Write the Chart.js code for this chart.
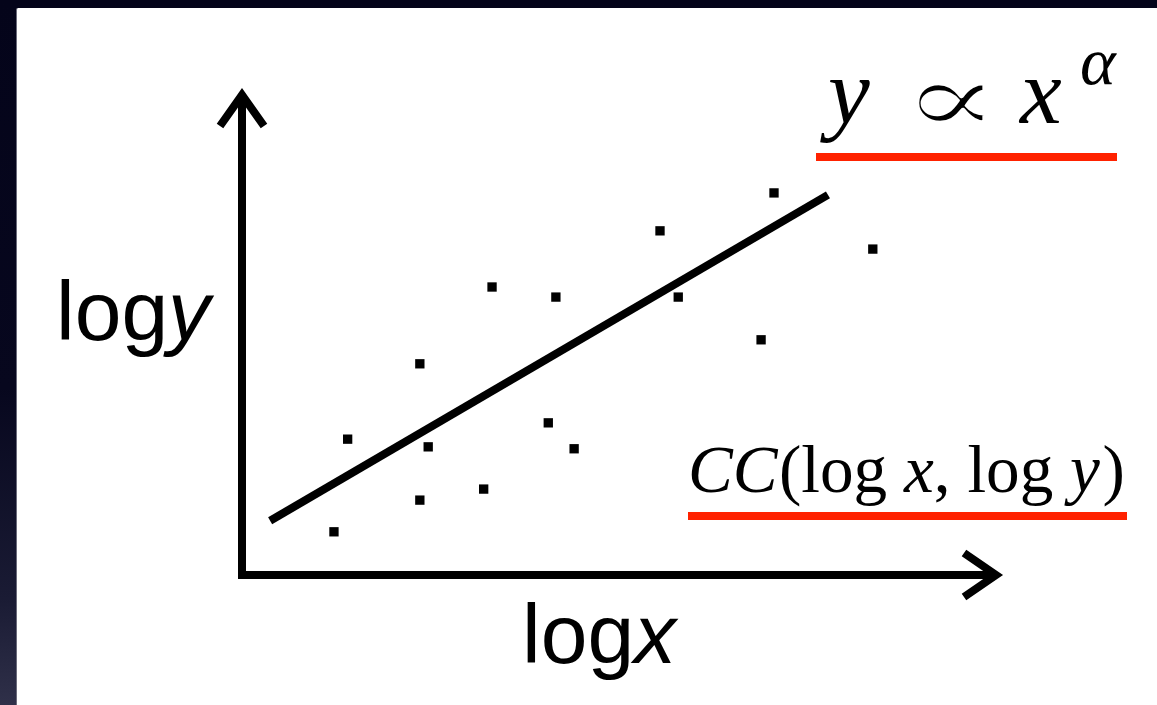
<!DOCTYPE html>
<html>
<head>
<meta charset="utf-8">
<script src="https://cdn.jsdelivr.net/npm/chart.js@4"></script>
<style>
  html, body { margin: 0; padding: 0; width: 1157px; height: 705px; overflow: hidden; }
  body {
    position: relative;
    background: linear-gradient(180deg, #04041a 0%, #07071e 55%, #1a1b34 85%, #2f3049 100%);
  }
  #panel {
    position: absolute; left: 16px; top: 8px; right: -20px; bottom: -20px;
    background: #fff; border-left: 1px solid #6a6a7a; border-top-left-radius: 2px;
  }
  #plot { position: absolute; left: 0; top: 0; }
</style>
</head>
<body>
<div id="panel"></div>
<canvas id="plot" width="1157" height="705"></canvas>
<script>
// observations (log x, log y)
const logX = [1.21, 1.39, 2.34, 2.34, 2.45, 3.18, 3.29, 4.03, 4.13, 4.37, 5.50, 5.74, 6.83, 7.00, 8.30];
const logY = [0.90, 2.83, 4.40, 1.56, 2.67, 1.79, 6.00, 3.17, 5.79, 2.63, 7.17, 5.79, 4.90, 7.96, 6.79];

// end points of the fitted line
const fitX = [0.37, 7.71];
const fitY = [1.13, 7.92];

// axis extent (arrow tips)
const axisMax = 10;

const serif = "'Liberation Serif', 'DejaVu Serif', serif";
const sans = "'Liberation Sans', Arial, sans-serif";

// draws a row of text pieces with different fonts, returns total width
const drawRuns = (ctx, runs, x, y, measureOnly) => {
    let w = 0;
    for (const r of runs) {
        ctx.font = r.font;
        if (!measureOnly) ctx.fillText(r.t, x + w + (r.dx || 0), y + (r.dy || 0));
        w += ctx.measureText(r.t).width + (r.gap || 0);
    }
    return w;
}

// draws a glyph scaled into a box (left, top, right, bottom), thinned by a white outline
const drawInBox = (ctx, t, font, l, tp, r, b, thin) => {
    ctx.font = font;
    const m = ctx.measureText(t);
    const gw = m.actualBoundingBoxLeft + m.actualBoundingBoxRight;
    const gh = m.actualBoundingBoxAscent + m.actualBoundingBoxDescent;
    const sx = (r - l) / gw, sy = (b - tp) / gh;
    ctx.save();
    ctx.translate(l, tp);
    ctx.scale(sx, sy);
    ctx.fillText(t, m.actualBoundingBoxLeft, m.actualBoundingBoxAscent);
    if (thin) {
        ctx.strokeStyle = '#fff';
        ctx.lineWidth = thin / Math.max(sx, sy);
        ctx.lineJoin = 'round';
        ctx.strokeText(t, m.actualBoundingBoxLeft, m.actualBoundingBoxAscent);
    }
    ctx.restore();
}

// axes with arrow heads
const arrowAxes = {
    id: 'arrowAxes',
    beforeDatasetsDraw(chart) {
        const ctx = chart.ctx;
        const xs = chart.scales.x, ys = chart.scales.y;
        const x0 = xs.getPixelForValue(0), y0 = ys.getPixelForValue(0);
        const xTip = xs.getPixelForValue(axisMax) - 6, yTip = ys.getPixelForValue(axisMax);
        ctx.save();
        ctx.strokeStyle = '#000';
        ctx.lineWidth = 8;
        ctx.lineCap = 'butt';
        ctx.lineJoin = 'miter';
        ctx.beginPath();
        ctx.moveTo(x0, y0 + 4);
        ctx.lineTo(x0, yTip + 3);
        ctx.moveTo(x0 - 4, y0);
        ctx.lineTo(xTip - 3, y0);
        ctx.stroke();
        ctx.beginPath();
        ctx.moveTo(x0 - 22, yTip + 31);
        ctx.lineTo(x0, yTip);
        ctx.lineTo(x0 + 22, yTip + 31);
        ctx.moveTo(xTip - 32, y0 - 22);
        ctx.lineTo(xTip, y0);
        ctx.lineTo(xTip - 32, y0 + 22);
        ctx.stroke();
        ctx.restore();
    },
    afterDraw(chart) {
        const ctx = chart.ctx;
        ctx.save();
        ctx.fillStyle = '#000';
        ctx.textBaseline = 'alphabetic';

        // axis titles
        drawRuns(ctx, [
            {t: 'log', font: `84px ${sans}`},
            {t: 'y', font: `italic 84px ${sans}`}
        ], 56, 340);
        drawRuns(ctx, [
            {t: 'log', font: `84px ${sans}`},
            {t: 'x', font: `italic 84px ${sans}`}
        ], 522, 663);

        // power law
        ctx.font = `italic 94px ${serif}`;
        ctx.fillText('y', 828, 123);
        drawInBox(ctx, '\u221d', `150px ${serif}`, 917, 83, 985, 122, 4);
        ctx.font = `italic 94px ${serif}`;
        ctx.fillText('x', 1020, 123);
        ctx.font = `italic 68px ${serif}`;
        ctx.fillText('\u03b1', 1080, 84);

        // correlation coefficient, scaled to fit its underline
        const ccRuns = (s) => [
            {t: 'CC', font: `italic ${s}px ${serif}`, gap: s * 0.02},
            {t: '(log ', font: `${s}px ${serif}`},
            {t: 'x', font: `italic ${s}px ${serif}`},
            {t: ', log ', font: `${s}px ${serif}`},
            {t: 'y', font: `italic ${s}px ${serif}`, gap: s * 0.04},
            {t: ')', font: `${s}px ${serif}`}
        ];
        const w70 = drawRuns(ctx, ccRuns(70), 0, 0, true);
        const s = 70 * 437 / w70;
        drawRuns(ctx, ccRuns(s), 688, 492);

        // red underlines
        ctx.fillStyle = '#ff2200';
        ctx.fillRect(816, 153, 301, 8);
        ctx.fillRect(688, 512, 439, 8);
        ctx.restore();
    }
};

const ctx = document.getElementById('plot');
new Chart(ctx, {
    type: 'scatter',
    data: {
        datasets: [{
            type: 'line',
            label: 'fit',
            data: fitX.map((x, i) => ({x: x, y: fitY[i]})),
            borderColor: '#000',
            borderWidth: 8,
            pointRadius: 0,
            fill: false
        }, {
            label: 'data',
            data: logX.map((x, i) => ({x: x, y: logY[i]})),
            pointStyle: 'rect',
            pointRadius: 6.6,
            pointBorderWidth: 0,
            backgroundColor: '#000',
            borderColor: '#000'
        }]
    },
    plugins: [arrowAxes],
    options: {
        responsive: false,
        animation: false,
        layout: { padding: { left: 242, right: 155, top: 95, bottom: 130 } },
        plugins: { legend: { display: false }, tooltip: { enabled: false } },
        scales: {
            x: { type: 'linear', min: 0, max: axisMax, display: false },
            y: { type: 'linear', min: 0, max: axisMax, display: false }
        }
    }
});
</script>
</body>
</html>
